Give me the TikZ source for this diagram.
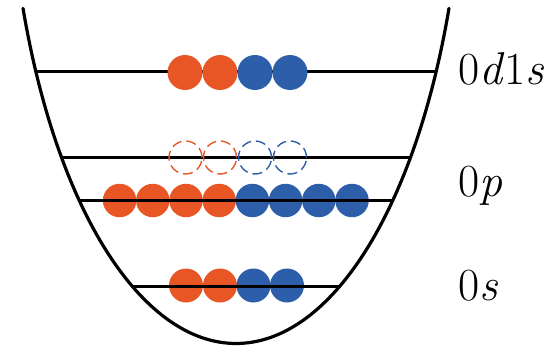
\documentclass[tikz,border=0pt]{standalone}
\definecolor{protonorange}{RGB}{233,86,37}
\definecolor{neutronblue}{RGB}{45,94,170}
\begin{document}
\begin{tikzpicture}[x=1pt,y=-1pt,
  well/.style={line width=3.2pt, line cap=round},
  level/.style={line width=3pt},
  proton/.style={circle, fill=protonorange, minimum size=#1, inner sep=0pt},
  neutron/.style={circle, fill=neutronblue, minimum size=#1, inner sep=0pt},
  protonhole/.style={circle, draw=protonorange, line width=1.4pt, dash pattern=on 10pt off 5pt, minimum size=33pt, inner sep=0pt},
  neutronhole/.style={circle, draw=neutronblue, line width=1.4pt, dash pattern=on 10pt off 5pt, minimum size=33pt, inner sep=0pt},
  shell/.style={font=\fontsize{46}{46}\selectfont, anchor=base west, inner sep=0pt}]
\useasboundingbox (0,0) rectangle (552,348);

% the potential well: lower part of a tall ellipse
\draw[well] plot[domain=21.1:158.9, samples=120]
  ({236+228.3*cos(\x)}, {-180.2+523.7*sin(\x)});

% 0d1s level: particles drawn over the line
\coordinate (dL) at (36,71);
\coordinate (dR) at (435,71);
\draw[level] (dL) -- (dR);
\foreach \i/\x in {1/185,2/220} \node[proton=35pt] (dp\i) at (\x,72.5) {};
\foreach \i/\x in {1/255,2/290} \node[neutron=35pt] (dn\i) at (\x,72.5) {};

% upper 0p level with vacancies
\coordinate (pUL) at (62,157);
\coordinate (pUR) at (409,157);
\draw[level] (pUL) -- (pUR);
\foreach \i/\x in {1/185.5,2/220} \node[protonhole] (ph\i) at (\x,157.5) {};
\foreach \i/\x in {1/255,2/290} \node[neutronhole] (nh\i) at (\x,157.5) {};

% lower 0p level: line drawn over the particles
\foreach \i/\x in {1/119.6,2/152.8,3/186,4/219.2} \node[proton=33.5pt] (pp\i) at (\x,200.5) {};
\foreach \i/\x in {1/252.4,2/285.6,3/318.8,4/352} \node[neutron=33.5pt] (pn\i) at (\x,200.5) {};
\coordinate (pLL) at (79,200);
\coordinate (pLR) at (393,200);
\draw[level] (pLL) -- (pLR);

% 0s level: line drawn over the particles
\foreach \i/\x in {1/186,2/220} \node[proton=34pt] (sp\i) at (\x,285.5) {};
\foreach \i/\x in {1/253.5,2/287} \node[neutron=34pt] (sn\i) at (\x,285.5) {};
\coordinate (sL) at (132,286);
\coordinate (sR) at (340,286);
\draw[level] (sL) -- (sR);

% shell labels
\node[shell] (lab0d1s) at (458,84) {0\textit{d}1\textit{s}};
\node[shell] (lab0p) at (458,196) {0\textit{p}};
\node[shell] (lab0s) at (458,300) {0\textit{s}};
\end{tikzpicture}
\end{document}
